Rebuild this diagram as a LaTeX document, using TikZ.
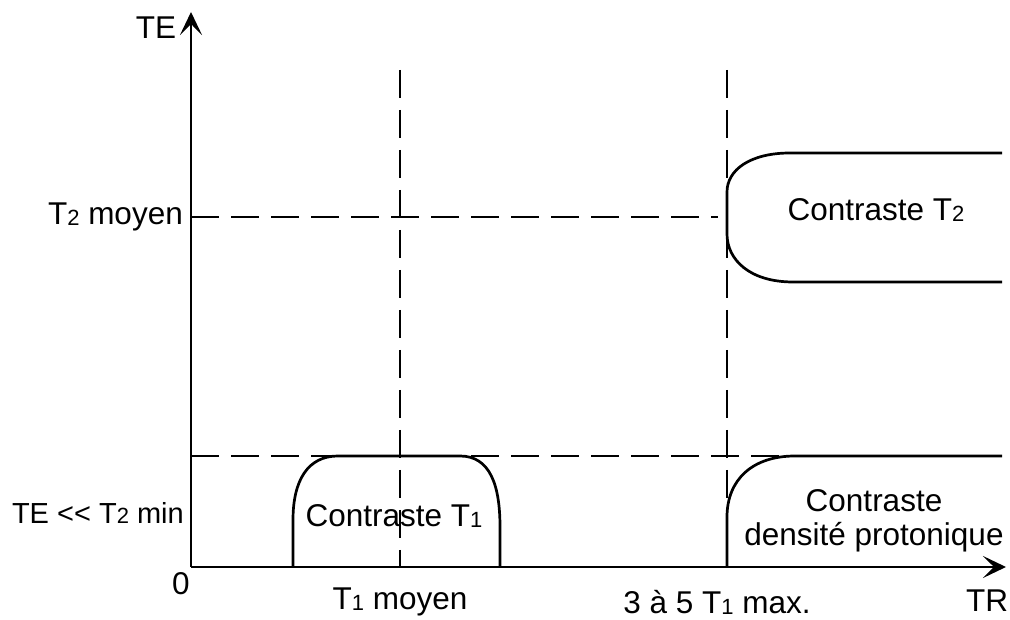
\documentclass[tikz,border=0pt]{standalone}
\usepackage{fontspec}
\setmainfont{Liberation Sans}
\usetikzlibrary{arrows.meta}
\newcommand{\subd}[1]{{\fontsize{22}{22}\selectfont\raisebox{-1pt}{#1}}}
\begin{document}
\begin{tikzpicture}[x=1pt,y=1pt,
  axis/.style={line width=2.8pt,-{Stealth[length=23pt,width=22pt,inset=11pt]}},
  guide/.style={line width=1.4pt,dash pattern=on 28pt off 12pt},
  region/.style={line width=2.7pt,line join=round},
  lbl/.style={inner sep=0pt,font=\fontsize{31.5}{34}\selectfont}]
\useasboundingbox (0,0) rectangle (1010,620);
\coordinate (O) at (191,53);
\coordinate (ytip) at (191,608);
\coordinate (xtip) at (1006,53);
% guides
\coordinate (g1a) at (191,403); \coordinate (g1b) at (718,403);
\coordinate (g2a) at (191,164); \coordinate (g2b) at (790,164);
\coordinate (v1a) at (400,550); \coordinate (v1b) at (400,53);
\coordinate (v2a) at (727,550); \coordinate (v2b) at (727,53);
\draw[guide] (g1a) -- (g1b);
\draw[guide] (g2a) -- (g2b);
\draw[guide] (v1a) -- (v1b);
\draw[guide] (v2a) -- (v2b);
% T1 region
\draw[region] (293,53) -- (293,100) .. controls (293,140) and (308,164) .. (338,164)
  -- (460,164) .. controls (490,164) and (500,135) .. (500,93) -- (500,53);
% T2 region
\draw[region] (1002,467) -- (790,467) .. controls (750,467) and (727,450) .. (727,428)
  -- (727,386) .. controls (727,360) and (750,338) .. (793,338) -- (1002,338);
% PD region
\draw[region] (727,53) -- (727,103) .. controls (727,140) and (752,164) .. (795,164) -- (1002,164);
% axes
\draw[axis] (O) -- (ytip);
\draw[axis] (O) -- (xtip);
% labels
\node[lbl] (te) at (156,592) {TE};
\node[lbl] (tr) at (987,19) {TR};
\node[lbl] (zero) at (181,36) {0};
\node[lbl,anchor=east] (t2m) at (183,403) {T\subd{2} moyen};
\node[lbl,anchor=east,font=\fontsize{29}{32}\selectfont] (temin) at (184,107) {TE {<}{<} T\subd{2} min};
\node[lbl] (t1m) at (400,18) {T\subd{1} moyen};
\node[lbl] (t1max) at (717,18) {3 à 5 T\subd{1} max.};
\node[lbl] (ct1) at (394,104) {Contraste T\subd{1}};
\node[lbl] (ct2) at (876,410) {Contraste T\subd{2}};
\node[lbl,align=center] (cpd) at (874,99) {Contraste\\densité protonique};
\end{tikzpicture}
\end{document}
